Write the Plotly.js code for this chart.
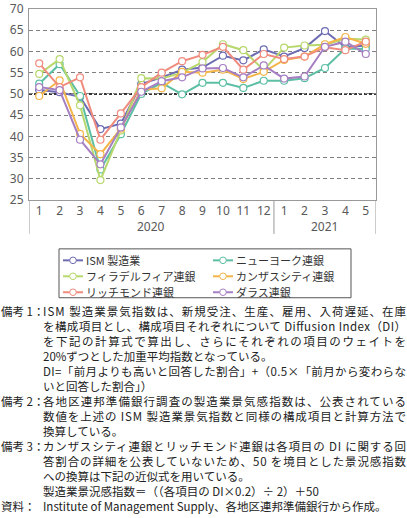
<!DOCTYPE html>
<html>
<head>
<meta charset="utf-8">
<script src="https://cdn.plot.ly/plotly-3.0.1.min.js"></script>
<style>
    html, body { margin: 0; padding: 0; background: #fff; }
    #chart { width: 407px; height: 518px; }
</style>
</head>
<body>
<div id="chart"></div>
<script>
// =========================
// DATA
// =========================
const monthLabels = ["1", "2", "3", "4", "5", "6", "7", "8", "9", "10", "11", "12", "1", "2", "3", "4", "5"];
const yearLabels = ["2020", "2021"];
const yTicks = [25, 30, 35, 40, 45, 50, 55, 60, 65, 70];

const seriesNames = ["ISM 製造業", "ニューヨーク連銀", "フィラデルフィア連銀", "カンザスシティ連銀", "リッチモンド連銀", "ダラス連銀"];

const ismValues    = [50.9, 50.4, 49.3, 41.7, 43.0, 52.3, 53.9, 55.7, 56.2, 59.0, 57.9, 60.5, 58.8, 60.8, 64.8, 61.0, 61.4];
const nyValues     = [52.4, 57.0, 49.5, 32.2, 40.5, 50.0, 52.6, 49.9, 52.6, 52.6, 51.4, 53.1, 53.1, 53.7, 56.1, 60.7, 60.6];
const phillyValues = [54.7, 58.2, 47.3, 29.7, 41.4, 53.7, 53.6, 55.0, 57.5, 61.7, 60.3, 55.6, 60.9, 61.4, 61.6, 63.0, 62.8];
const kcValues     = [49.5, 53.2, 40.6, 35.8, 41.8, 51.0, 51.3, 55.2, 55.0, 55.7, 53.5, 55.2, 58.0, 58.8, 61.7, 63.4, 61.8];
const richValues   = [57.2, 51.6, 53.9, 39.2, 45.4, 51.6, 55.0, 57.7, 59.2, 61.1, 55.7, 59.4, 58.2, 58.8, 61.0, 60.3, 62.3];
const dallasValues = [51.6, 50.9, 39.2, 33.4, 42.1, 50.5, 53.0, 53.9, 56.0, 56.1, 53.9, 56.7, 53.6, 54.1, 61.1, 62.3, 59.4];

const seriesColors = ["#6d6cb3", "#5cbfa4", "#b7d86c", "#f4b548", "#f08b7d", "#a67fc3"];

const noteLabels = ["備考 1：", "", "", "", "", "", "備考 2：", "", "", "備考 3：", "", "", "", "資料："];
const noteLines = [
    "ISM 製造業景気指数は、新規受注、生産、雇用、入荷遅延、在庫",
    "を構成項目とし、構成項目それぞれについて Diffusion Index（DI）",
    "を下記の計算式で算出し、さらにそれぞれの項目のウェイトを",
    "20%ずつとした加重平均指数となっている。",
    "DI=「前月よりも高いと回答した割合」+（0.5×「前月から変わらな",
    "いと回答した割合」）",
    "各地区連邦準備銀行調査の製造業景気感指数は、公表されている",
    "数値を上述の ISM 製造業景気指数と同様の構成項目と計算方法で",
    "換算している。",
    "カンザスシティ連銀とリッチモンド連銀は各項目の DI に関する回",
    "答割合の詳細を公表していないため、50 を境目とした景況感指数",
    "への換算は下記の近似式を用いている。",
    "製造業景況感指数＝（（各項目の DI×0.2）÷ 2）＋50",
    "Institute of Management Supply、各地区連邦準備銀行から作成。"
];
// lines that run to the right edge (justified) in the source
const justifiedLines = [0, 1, 2, 4, 6, 7, 9, 10];

// =========================
// HELPERS (pixel -> paper)
// =========================
const plotLeft = 29, plotRight = 376, plotTop = 8.5, plotBottom = 200;
function px(x) { return (x - plotLeft) / (plotRight - plotLeft); }
function py(y) { return (plotBottom - y) / (plotBottom - plotTop); }

const fontFamily = "Noto Sans CJK JP, Noto Sans, sans-serif";
const numFont = "Noto Sans, sans-serif";

// =========================
// TRACES
// =========================
const allValues = [ismValues, nyValues, phillyValues, kcValues, richValues, dallasValues];
const xIdx = monthLabels.map((m, i) => i);

let traces = allValues.map((vals, i) => {
    return {
        x: xIdx,
        y: vals,
        name: seriesNames[i],
        type: "scatter",
        mode: "lines+markers",
        line: { color: seriesColors[i], width: 2 },
        marker: { symbol: "circle", size: 7, color: "#ffffff", line: { color: seriesColors[i], width: 1.2 } }
    };
});

let annotations = [];
let shapes = [];

// =========================
// YEAR LABELS + GROUP LINES
// =========================
yearLabels.forEach((yr, i) => {
    annotations.push({
        x: i === 0 ? 5.5 : 14, xref: "x", xanchor: "center",
        y: py(226.5), yref: "paper", yanchor: "middle",
        text: yr, showarrow: false,
        font: { family: numFont, size: 12, color: "#595959" }
    });
});

[-0.5, 11.5, 16.5].forEach(xv => {
    shapes.push({
        type: "line", xref: "x", yref: "paper",
        x0: xv, x1: xv, y0: 0, y1: py(234),
        line: { color: "#999", width: 1 }
    });
});

// 50 line
shapes.push({
    type: "line", xref: "paper", yref: "y",
    x0: 0, x1: 1, y0: 50, y1: 50,
    layer: "between",
    line: { color: "#333", width: 2, dash: "3px,2px" }
});

// =========================
// LEGEND (2 columns, boxed)
// =========================
shapes.push({
    type: "rect", xref: "paper", yref: "paper",
    x0: px(59), x1: px(351), y0: py(249), y1: py(298),
    line: { color: "#555", width: 1 }
});

seriesNames.forEach((name, i) => {
    let col = i % 2;
    let row = Math.floor(i / 2);
    let cy = 260.5 + 16 * row;
    let lx = 63 + 150 * col;
    shapes.push({
        type: "line", xref: "paper", yref: "paper",
        x0: px(lx), x1: px(lx + 20), y0: py(cy), y1: py(cy),
        line: { color: seriesColors[i], width: 2 }
    });
    shapes.push({
        type: "circle", xref: "paper", yref: "paper",
        xsizemode: "pixel", ysizemode: "pixel",
        xanchor: px(lx + 10), yanchor: py(cy),
        x0: -3.3, x1: 3.3, y0: -3.3, y1: 3.3,
        fillcolor: "#ffffff",
        line: { color: seriesColors[i], width: 1 }
    });
    annotations.push({
        x: px(lx + 21), xref: "paper", xanchor: "left",
        y: py(cy), yref: "paper", yanchor: "middle",
        text: name, showarrow: false,
        font: { family: fontFamily, size: 11, color: "#333" }
    });
});

// =========================
// NOTES
// =========================
let noteIndex = {};
noteLines.forEach((line, k) => {
    let yy = py(311.5 + 15 * k);
    if (noteLabels[k]) {
        annotations.push({
            x: px(-1), xref: "paper", xanchor: "left",
            y: yy, yref: "paper", yanchor: "middle",
            text: noteLabels[k], showarrow: false, align: "left",
            font: { family: fontFamily, size: 11.5, color: "#222" }
        });
    }
    noteIndex[annotations.length] = k;
    annotations.push({
        x: px(41), xref: "paper", xanchor: "left",
        y: yy, yref: "paper", yanchor: "middle",
        text: line, showarrow: false, align: "left",
        font: { family: fontFamily, size: 11.5, color: "#222" }
    });
});

// =========================
// LAYOUT
// =========================
let layout = {
    width: 407,
    height: 518,
    margin: { l: plotLeft, r: 407 - plotRight, t: plotTop, b: 518 - plotBottom, pad: 0 },
    paper_bgcolor: "#fff",
    plot_bgcolor: "#fff",
    font: { family: fontFamily, size: 12.5, color: "#333" },
    showlegend: false,
    xaxis: {
        range: [-0.5, 16.5],
        tickvals: xIdx,
        ticktext: monthLabels,
        showgrid: false,
        zeroline: false,
        showline: true,
        mirror: true,
        linecolor: "#999",
        linewidth: 1,
        ticks: "",
        tickfont: { family: numFont, size: 12, color: "#595959" }
    },
    yaxis: {
        range: [25, 70],
        tickvals: yTicks,
        ticklabeloverflow: "allow",
        showgrid: true,
        gridcolor: "#808080",
        griddash: "4px,3px",
        gridwidth: 1,
        zeroline: false,
        showline: true,
        mirror: true,
        linecolor: "#999",
        linewidth: 1,
        ticks: "",
        ticklabelstandoff: 2,
        tickfont: { family: numFont, size: 12, color: "#595959" }
    },
    annotations: annotations,
    shapes: shapes
};

// =========================
// DRAW + JUSTIFY NOTE LINES
// =========================
Plotly.newPlot("chart", traces, layout, { displayModeBar: false, staticPlot: true }).then(function (gd) {
    let rightEdge = 406;
    gd.querySelectorAll(".annotation").forEach(function (g) {
        let idx = parseInt(g.getAttribute("data-index"), 10);
        if (!(idx in noteIndex)) return;
        if (justifiedLines.indexOf(noteIndex[idx]) < 0) return;
        let t = g.querySelector("text.annotation-text");
        if (!t) return;
        let left = t.getBoundingClientRect().left - gd.getBoundingClientRect().left;
        t.setAttribute("textLength", rightEdge - left);
        t.setAttribute("lengthAdjust", "spacing");
    });
});
</script>
</body>
</html>
